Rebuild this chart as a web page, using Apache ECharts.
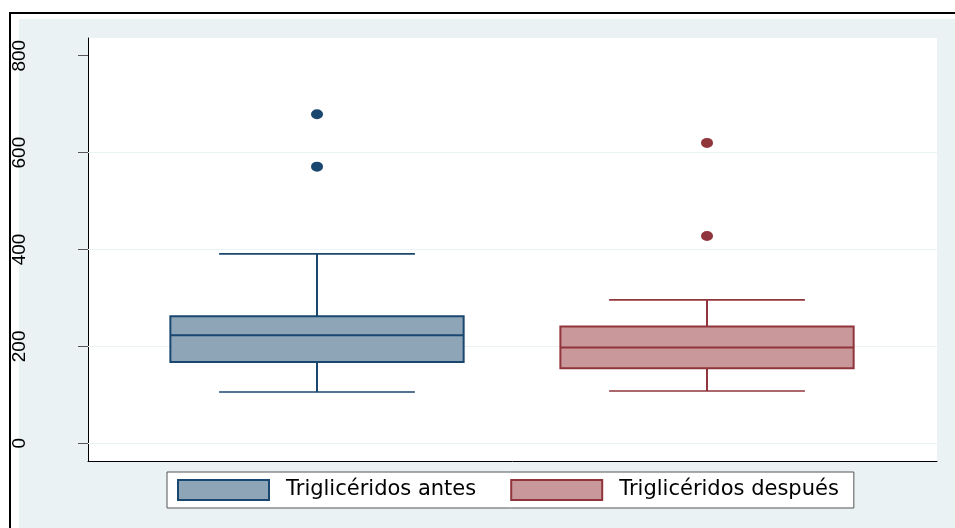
<!DOCTYPE html>
<html>
<head>
<meta charset="utf-8">
<script src="https://cdn.jsdelivr.net/npm/echarts@6/dist/echarts.min.js"></script>
<style>
  html, body { margin: 0; padding: 0; background: #ffffff; }
  #chart { width: 955px; height: 528px; }
</style>
</head>
<body>
<div id="chart"></div>
<script>
// Box plot of triglyceride levels, before and after
const categories = ['Triglicéridos antes', 'Triglicéridos después'];
// [lower whisker, Q1, median, Q3, upper whisker]
const boxAntes = [106, 168, 223, 262, 391];
const boxDespues = [108, 155, 198, 241, 296];
const outliersAntes = [679, 571];
const outliersDespues = [620, 428];
const yTickValues = [0, 200, 400, 600, 800];
const gridValues = [0, 200, 400, 600];

const fills = ['#8ea5b8', '#c8989b'];
const strokes = ['#1a476f', '#90353b'];

const BOX_HALF = 0.376;   // half box width, in x units
const CAP_HALF = 0.251;   // half whisker-cap width, in x units

function makeRender(fill, stroke) {
  return function (params, api) {
    const x = api.value(0);
    const pMin = api.coord([x, api.value(1)]);
    const pQ1 = api.coord([x, api.value(2)]);
    const pMed = api.coord([x, api.value(3)]);
    const pQ3 = api.coord([x, api.value(4)]);
    const pMax = api.coord([x, api.value(5)]);
    const unit = api.size([1, 0])[0];
    const hw = unit * BOX_HALF;
    const cw = unit * CAP_HALF;
    const cx = pMed[0];
    const line = (x1, y1, x2, y2, w) => ({
      type: 'line',
      shape: { x1, y1, x2, y2 },
      style: { stroke, lineWidth: w }
    });
    return {
      type: 'group',
      children: [
        line(cx, pQ3[1], cx, pMax[1], 2),
        line(cx, pQ1[1], cx, pMin[1], 2),
        line(cx - cw, pMax[1], cx + cw, pMax[1], 1.6),
        line(cx - cw, pMin[1], cx + cw, pMin[1], 1.6),
        {
          type: 'rect',
          shape: { x: cx - hw, y: pQ3[1], width: 2 * hw, height: pQ1[1] - pQ3[1] },
          style: { fill, stroke, lineWidth: 2 }
        },
        line(cx - hw, pMed[1], cx + hw, pMed[1], 2)
      ]
    };
  };
}

const chart = echarts.init(document.getElementById('chart'), null, { renderer: 'canvas' });

const option = {
  animation: false,
  backgroundColor: '#ffffff',
  graphic: [
    { type: 'rect', z: -10, shape: { x: 19, y: 19, width: 936, height: 509 }, style: { fill: '#eaf2f3' } },
    { type: 'rect', z: -10, shape: { x: 9, y: 12, width: 946, height: 2 }, style: { fill: '#000000' } },
    { type: 'rect', z: -10, shape: { x: 9, y: 12, width: 2, height: 516 }, style: { fill: '#000000' } }
  ],
  grid: {
    left: 88, top: 38, width: 849, height: 423,
    show: true, backgroundColor: '#ffffff', borderWidth: 0
  },
  xAxis: {
    type: 'value',
    min: 0.4128, max: 2.5897,
    axisLine: { show: true, onZero: false, lineStyle: { color: '#000000', width: 1 } },
    axisTick: { show: false },
    axisLabel: { show: false },
    splitLine: { show: false }
  },
  yAxis: {
    type: 'value',
    min: -36.5, max: 836.5,
    axisLine: { show: true, onZero: false, lineStyle: { color: '#000000', width: 1 } },
    axisTick: { show: true, length: 10, customValues: yTickValues, lineStyle: { color: '#555555' } },
    axisLabel: {
      show: true, customValues: yTickValues, rotate: 90, margin: 59,
      color: '#000000', fontFamily: 'Liberation Sans', fontSize: 19
    },
    splitLine: { show: false }
  },
  legend: {
    left: 167, top: 472,
    orient: 'horizontal',
    padding: [7, 15, 7, 10],
    itemGap: 34,
    itemWidth: 91, itemHeight: 20,
    backgroundColor: '#ffffff',
    borderColor: '#555555', borderWidth: 1, borderRadius: 0,
    selectedMode: false,
    textStyle: { fontFamily: 'DejaVu Sans', fontSize: 21, color: '#000000', padding: [0, 0, 0, 12] },
    data: categories.map((name, i) => ({
      name, icon: 'rect',
      itemStyle: { color: fills[i], borderColor: strokes[i], borderWidth: 2 }
    }))
  },
  series: [
    {
      type: 'line', name: 'gridlines', data: [], silent: true, z: 1,
      markLine: {
        silent: true, symbol: 'none', z: 1,
        label: { show: false },
        lineStyle: { color: '#eaf2f3', width: 1, type: 'solid' },
        data: gridValues.map(v => ({ yAxis: v }))
      }
    },
    {
      type: 'custom', name: categories[0], z: 10,
      itemStyle: { color: fills[0], borderColor: strokes[0] },
      renderItem: makeRender(fills[0], strokes[0]),
      encode: { x: 0, y: [1, 2, 3, 4, 5] },
      data: [[1].concat(boxAntes)]
    },
    {
      type: 'custom', name: categories[1], z: 10,
      itemStyle: { color: fills[1], borderColor: strokes[1] },
      renderItem: makeRender(fills[1], strokes[1]),
      encode: { x: 0, y: [1, 2, 3, 4, 5] },
      data: [[2].concat(boxDespues)]
    },
    {
      type: 'scatter', name: 'atipicos_antes', z: 11,
      symbol: 'circle', symbolSize: [12, 10],
      itemStyle: { color: strokes[0], opacity: 1 },
      data: outliersAntes.map(v => [1, v])
    },
    {
      type: 'scatter', name: 'atipicos_despues', z: 11,
      symbol: 'circle', symbolSize: [12, 10],
      itemStyle: { color: strokes[1], opacity: 1 },
      data: outliersDespues.map(v => [2, v])
    }
  ]
};

chart.setOption(option);
</script>
</body>
</html>
